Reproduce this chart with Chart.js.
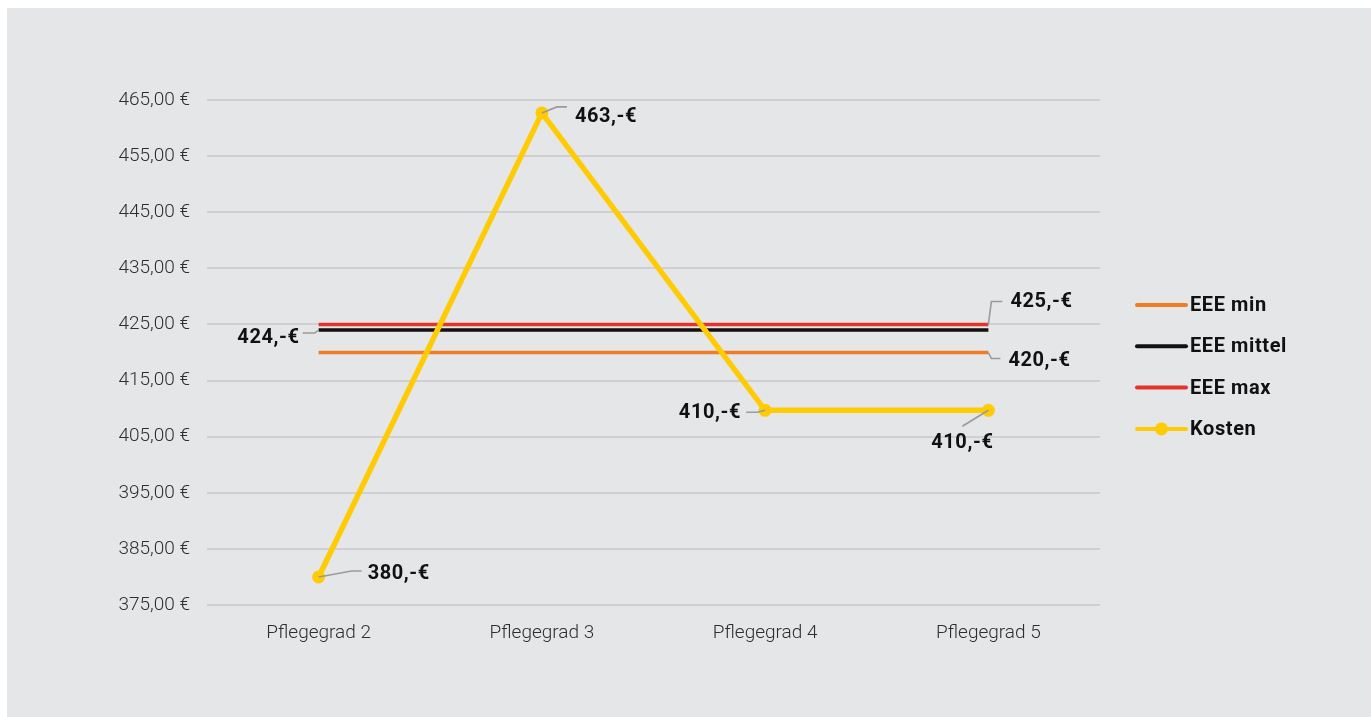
<!DOCTYPE html>
<html>
<head>
<meta charset="utf-8">
<script src="https://cdn.jsdelivr.net/npm/chart.js@4/dist/chart.umd.min.js"></script>
<style>
  html, body { margin: 0; padding: 0; background: #ffffff; width: 1371px; height: 717px; overflow: hidden; }
  #panel { position: absolute; left: 7px; top: 8px; width: 1364px; height: 709px; background: #e5e6e8; }
  canvas { display: block; }
</style>
</head>
<body>
<div id="panel"><canvas id="c" width="1364" height="709"></canvas></div>
<script>
// ---- data ----
const categories = ['Pflegegrad 2', 'Pflegegrad 3', 'Pflegegrad 4', 'Pflegegrad 5'];
const seriesNames = ['EEE min', 'EEE mittel', 'EEE max', 'Kosten'];
const eeeMin = [420, 420, 420, 420];
const eeeMittel = [424, 424, 424, 424];
const eeeMax = [425, 425, 425, 425];
const kosten = [380, 462.7, 409.7, 409.7];
const yMin = 375;
const yMax = 465;
const yStep = 10;
// data labels: series index, point index, text
const labelSeries = [3, 3, 3, 3, 1, 2, 0];
const labelPoints = [0, 1, 2, 3, 0, 3, 3];
const labelTexts = ['380,-€', '463,-€', '410,-€', '410,-€', '424,-€', '425,-€', '420,-€'];

// ---- styles ----
const colors = ['#f07d26', '#111111', '#e3342a', '#ffcb05'];
const FONT = 'Roboto, "Liberation Sans", sans-serif';
// leader line paths (relative to point) and text anchor, per label
const leaderStyle = [
  { path: [[0, 0], [33, -6], [43, -6]], tx: 49, ty: -3, align: 'left' },
  { path: [[0, 0], [15, -6], [25, -6]], tx: 33, ty: 4, align: 'left' },
  { path: [[0, 0], [-8, 2], [-19, 2]], tx: -24, ty: 3, align: 'right' },
  { path: [[0, 0], [-26, 16]], tx: -26, ty: 33, align: 'center' },
  { path: [[0, 0], [-4, 3], [-16, 3]], tx: -19, ty: 8, align: 'right' },
  { path: [[0, 0], [3, -23], [14, -23]], tx: 22, ty: -22, align: 'left' },
  { path: [[0, 0], [3, 6], [12, 6]], tx: 20, ty: 8, align: 'left' }
];

const labelPlugin = {
  id: 'leaderLabels',
  afterDatasetsDraw(chart) {
    const ctx = chart.ctx;
    const xs = chart.scales.x, ys = chart.scales.y;
    ctx.save();
    labelTexts.forEach((t, k) => {
      const ds = chart.data.datasets[labelSeries[k]];
      const i = labelPoints[k];
      const px = xs.getPixelForValue(i);
      const py = ys.getPixelForValue(ds.data[i]);
      const st = leaderStyle[k];
      ctx.strokeStyle = '#9a9a9a';
      ctx.lineWidth = 1.6;
      ctx.beginPath();
      st.path.forEach((p, j) => {
        if (j === 0) ctx.moveTo(px + p[0], py + p[1]); else ctx.lineTo(px + p[0], py + p[1]);
      });
      ctx.stroke();
      ctx.fillStyle = '#111111';
      ctx.font = 'bold 20px ' + FONT;
      ctx.letterSpacing = '0.6px';
      ctx.textAlign = st.align;
      ctx.textBaseline = 'middle';
      ctx.fillText(t, px + st.tx, py + st.ty);
    });
    ctx.restore();
  },
  afterDraw(chart) {
    const ctx = chart.ctx;
    ctx.save();
    const x0 = 1130, x1 = 1179, tx = 1183;
    const yStart = 297, gap = 41.3;
    chart.data.datasets.forEach((ds, k) => {
      const y = yStart + k * gap;
      ctx.strokeStyle = ds.borderColor;
      ctx.lineWidth = 4;
      ctx.lineCap = 'round';
      ctx.beginPath();
      ctx.moveTo(x0, y); ctx.lineTo(x1, y);
      ctx.stroke();
      if (ds.pointRadius > 0) {
        ctx.fillStyle = ds.borderColor;
        ctx.beginPath();
        ctx.arc((x0 + x1) / 2, y, 6.5, 0, Math.PI * 2);
        ctx.fill();
      }
      ctx.fillStyle = '#111111';
      ctx.font = 'bold 20px ' + FONT;
      ctx.letterSpacing = '0.6px';
      ctx.textAlign = 'left';
      ctx.textBaseline = 'middle';
      ctx.fillText(ds.label, tx, y + 1);
    });
    ctx.restore();
  }
};

const seriesData = [eeeMin, eeeMittel, eeeMax, kosten];
const datasets = seriesNames.map((name, k) => ({
  label: name,
  data: seriesData[k],
  borderColor: colors[k],
  backgroundColor: colors[k],
  borderWidth: k === 3 ? 5.5 : 3.5,
  pointRadius: k === 3 ? 6.5 : 0,
  pointHoverRadius: k === 3 ? 6.5 : 0,
  pointBorderWidth: 0,
  tension: 0,
  fill: false,
  order: k === 3 ? 0 : 1
}));

new Chart(document.getElementById('c'), {
  type: 'line',
  data: { labels: categories, datasets: datasets },
  options: {
    responsive: false,
    animation: false,
    events: [],
    layout: { padding: { left: 0, right: 271, top: 92, bottom: 52 } },
    plugins: { legend: { display: false }, tooltip: { enabled: false } },
    scales: {
      x: {
        offset: true,
        grid: { display: false, drawTicks: false },
        border: { display: false },
        ticks: { color: '#2e2e2e', font: { family: FONT, size: 19, weight: '300' }, padding: 17, maxRotation: 0 },
        afterFit(s) { s.height = 60; }
      },
      y: {
        min: yMin, max: yMax,
        grid: { color: '#cfd0d2', lineWidth: 2, drawTicks: false },
        border: { display: false },
        ticks: {
          stepSize: yStep,
          color: '#2e2e2e',
          font: { family: FONT, size: 19, weight: '300' },
          padding: 17,
          callback: v => v.toFixed(2).replace('.', ',') + ' €'
        },
        afterFit(s) { s.width = 200; }
      }
    }
  },
  plugins: [labelPlugin]
});
</script>
</body>
</html>
